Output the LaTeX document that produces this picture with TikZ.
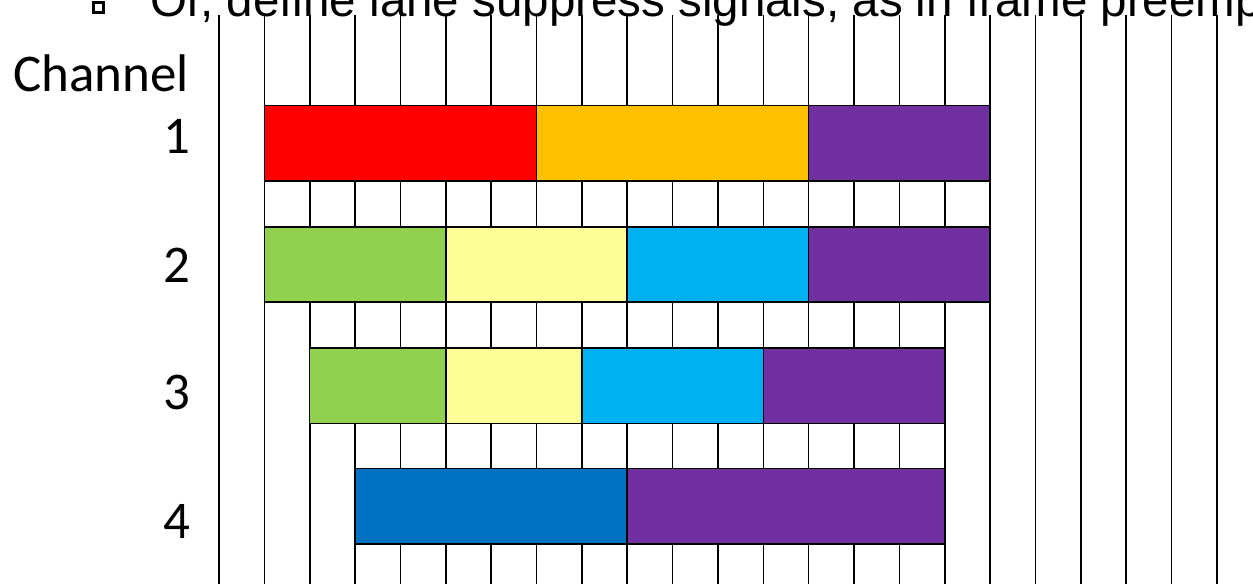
\documentclass[tikz,border=0pt]{standalone}
\usepackage{fontspec}
\setmainfont{Carlito}
\newfontfamily\arialfont{Liberation Sans}
\definecolor{cRed}{HTML}{FF0000}
\definecolor{cOrange}{HTML}{FFC000}
\definecolor{cPurple}{HTML}{7030A0}
\definecolor{cGreen}{HTML}{92D050}
\definecolor{cYellow}{HTML}{FFFF99}
\definecolor{cCyan}{HTML}{00B0F0}
\definecolor{cBlue}{HTML}{0070C0}
\tikzset{
  gridline/.style={line width=0.8pt, black},
  barbox/.style={draw=black, line width=0.75pt, rectangle, inner sep=0pt, outer sep=0pt, anchor=west},
  lbl/.style={inner sep=0pt, font=\fontsize{26.5}{30}\selectfont},
  titletext/.style={inner sep=0pt, anchor=base west, font=\arialfont\fontsize{23.75}{28}\selectfont}
}
\newcommand\chbar[6]{%
  \pgfmathsetmacro\barw{(#3-#2)*22.68}%
  \pgfmathsetmacro\barh{(#5-#4)*0.5}%
  \pgfmathsetmacro\barx{219+#2*45.36}%
  \pgfmathsetmacro\bary{(#4+#5)/2}%
  \node[barbox, fill=#6, minimum width=\barw pt, minimum height=\barh pt] (#1) at (\barx,\bary) {};%
}
\begin{document}
\begin{tikzpicture}[x=0.5pt,y=-0.5pt]
\clip (0,0) rectangle (1253,584);
\fill[white] (0,0) rectangle (1253,584);
% grid lines
\foreach \k in {0,...,22} {
  \draw[gridline] ({219+\k*45.36},15) -- ({219+\k*45.36},584);
}
% channel 1
\chbar{a1}{1}{7}{105.5}{181}{cRed}
\chbar{a2}{7}{13}{105.5}{181}{cOrange}
\chbar{a3}{13}{17}{105.5}{181}{cPurple}
% channel 2
\chbar{b1}{1}{5}{227}{302}{cGreen}
\chbar{b2}{5}{9}{227}{302}{cYellow}
\chbar{b3}{9}{13}{227}{302}{cCyan}
\chbar{b4}{13}{17}{227}{302}{cPurple}
% channel 3
\chbar{c1}{2}{5}{348}{423.5}{cGreen}
\chbar{c2}{5}{8}{348}{423.5}{cYellow}
\chbar{c3}{8}{12}{348}{423.5}{cCyan}
\chbar{c4}{12}{16}{348}{423.5}{cPurple}
% channel 4
\chbar{d1}{3}{9}{468.5}{544}{cBlue}
\chbar{d2}{9}{16}{468.5}{544}{cPurple}
% labels
\node[lbl, anchor=base west] (chan) at (13,91) {Channel};
\node[lbl, anchor=base east] (n1) at (191,153) {1};
\node[lbl, anchor=base east] (n2) at (191,282) {2};
\node[lbl, anchor=base east] (n3) at (191,409) {3};
\node[lbl, anchor=base east] (n4) at (191,538) {4};
% title line (cut at the top)
\node[draw=black, line width=1.5pt, minimum size=5pt, inner sep=0pt] (bullet) at (98.5,7.5) {};
\node[titletext] (title) at (150,16) {Or, define lane suppress signals, as in frame preemp};
\end{tikzpicture}
\end{document}
